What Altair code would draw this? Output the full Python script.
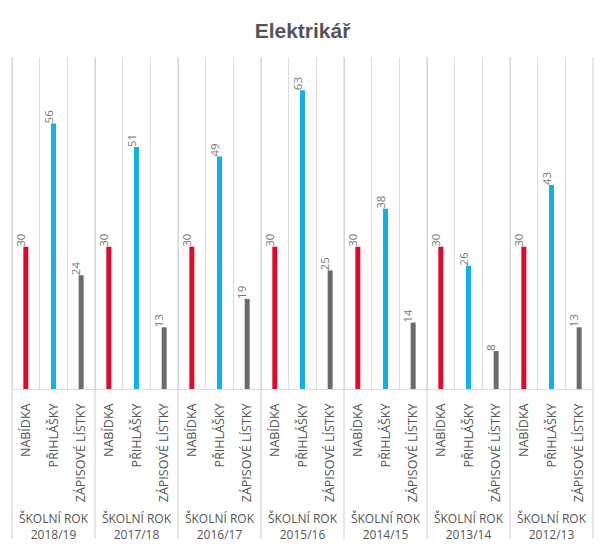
import altair as alt
import pandas as pd

years = ["2018/19", "2017/18", "2016/17", "2015/16", "2014/15", "2013/14", "2012/13"]
categories = ["NABÍDKA", "PŘIHLÁŠKY", "ZÁPISOVÉ LÍSTKY"]
nabidka = [30, 30, 30, 30, 30, 30, 30]
prihlasky = [56, 51, 49, 63, 38, 26, 43]
zapisove = [24, 13, 19, 25, 14, 8, 13]
colors = ["#dc0a2d", "#0fb2e6", "#6b6b6b"]

rows = []
for i, y in enumerate(years):
    for c, vals in zip(categories, [nabidka, prihlasky, zapisove]):
        rows.append({"year": y, "cat": c, "slot": f"{y}|{c}", "value": vals[i]})
df = pd.DataFrame(rows)
slot_order = list(df["slot"])

groups = pd.DataFrame({
    "year": years,
    "first": [f"{y}|{categories[0]}" for y in years],
    "mid": [f"{y}|{categories[1]}" for y in years],
    "top": ["ŠKOLNÍ ROK" for _ in years],
})
last = pd.DataFrame({"slot": [slot_order[-1]]})

W, H = 581, 332
FONT = "Open Sans"

xscale = alt.Scale(domain=slot_order, paddingInner=0, paddingOuter=0)
yscale = alt.Scale(domain=[0, 70])

base = alt.Chart(df)

bars = base.mark_bar(size=5).encode(
    x=alt.X("slot:N", sort=slot_order, scale=xscale, title=None,
            axis=alt.Axis(grid=True, bandPosition=0, gridColor="#dcdcdc", gridWidth=1,
                          ticks=False, domainColor="#dcdcdc", labelAngle=270,
                          labelAlign="right", labelBaseline="middle", labelPadding=14,
                          labelFont=FONT, labelFontSize=12.5, labelColor="#555555",
                          labelExpr="split(datum.label, '|')[1]", labelLimit=200)),
    y=alt.Y("value:Q", scale=yscale, axis=None),
    color=alt.Color("cat:N", scale=alt.Scale(domain=categories, range=colors), legend=None),
)

vals = base.mark_text(angle=270, align="left", baseline="middle", dy=-4,
                      font=FONT, fontSize=11.5, color="#777777").encode(
    x=alt.X("slot:N", sort=slot_order, scale=xscale),
    y=alt.Y("value:Q", scale=yscale),
    text="value:Q",
)

sep = alt.Chart(groups).mark_rule(color="#d0d0d0", strokeWidth=1).encode(
    x=alt.X("first:N", scale=xscale, bandPosition=0),
    y=alt.value(0),
    y2=alt.value(H + 150),
)
sep_end = alt.Chart(last).mark_rule(color="#d0d0d0", strokeWidth=1).encode(
    x=alt.X("slot:N", scale=xscale, bandPosition=1),
    y=alt.value(0),
    y2=alt.value(H + 150),
)

glabel_top = alt.Chart(groups).mark_text(align="center", baseline="middle",
                                         font=FONT, fontSize=12, color="#555555").encode(
    x=alt.X("mid:N", scale=xscale),
    y=alt.value(H + 130),
    text="top:N",
)
glabel_year = alt.Chart(groups).mark_text(align="center", baseline="middle",
                                          font=FONT, fontSize=12, color="#555555").encode(
    x=alt.X("mid:N", scale=xscale),
    y=alt.value(H + 146),
    text="year:N",
)

chart = alt.layer(sep, sep_end, bars, vals, glabel_top, glabel_year).properties(
    width=W, height=H,
    title=alt.TitleParams("Elektrikář", fontSize=21, fontWeight="bold", color="#555555",
                          font="Liberation Sans", anchor="middle", offset=15),
    autosize="none",
    padding={"left": 4, "top": 49, "right": 4, "bottom": 156},
).configure_view(stroke=None)

chart.save("out.html", embed_options={"renderer": "svg", "actions": False})
